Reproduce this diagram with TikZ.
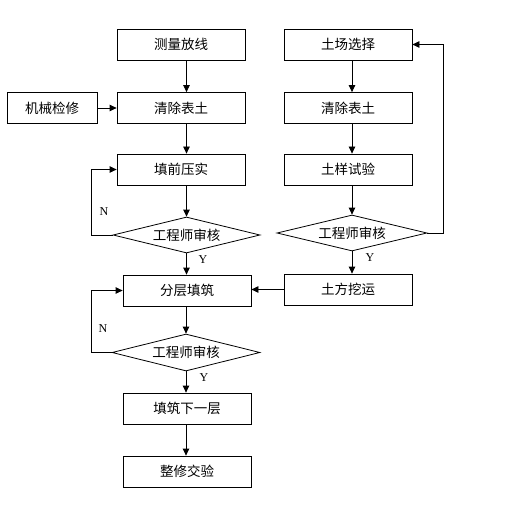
\documentclass[tikz,border=0pt]{standalone}
\usepackage{fontspec}
\newfontfamily\cjk{Noto Sans CJK SC}
\newfontfamily\lat{Liberation Serif}
\usetikzlibrary{shapes.geometric,arrows.meta}
\begin{document}
\begin{tikzpicture}[x=1pt,y=-1pt,
  box/.style={draw,line width=0.8pt,minimum width=128pt,minimum height=31pt,inner sep=0pt,font=\cjk\fontsize{13.5}{15}\selectfont},
  dia/.style={draw,line width=0.8pt,shape=diamond,inner sep=0pt},
  dtext/.style={font=\cjk\fontsize{13.5}{15}\selectfont,inner sep=0pt},
  yn/.style={font=\lat\fontsize{12}{14}\selectfont,inner sep=0pt},
  arr/.style={line width=0.8pt,-{Triangle[length=7pt,width=6.5pt]}},
  ln/.style={line width=0.8pt}]
\useasboundingbox[fill=white] (0,0) rectangle (519,521);
% left column
\node[box] (m1) at (181,44.5) {测量放线};
\node[box] (m2) at (181,108) {清除表土};
\node[box,minimum width=90pt] (jx) at (52,108) {机械检修};
\node[box] (m3) at (181,169.5) {填前压实};
\node[dia,minimum width=147pt,minimum height=36pt] (d1) at (186.5,235) {};
\node[dtext] (d1t) at (d1) {工程师审核};
\node[box] (m4) at (187,290.5) {分层填筑};
\node[dia,minimum width=148pt,minimum height=37pt] (d2) at (186,352.5) {};
\node[dtext] (d2t) at (d2) {工程师审核};
\node[box] (m5) at (187,408.5) {填筑下一层};
\node[box] (m6) at (187,471.5) {整修交验};
% right column
\node[box] (r1) at (348,44.5) {土场选择};
\node[box] (r2) at (348,108) {清除表土};
\node[box] (r3) at (348,169.5) {土样试验};
\node[dia,minimum width=150pt,minimum height=36pt] (d3) at (352,233) {};
\node[dtext] (d3t) at (d3) {工程师审核};
\node[box] (r4) at (348,289.5) {土方挖运};
% labels
\node[yn] (n1) at (104,212) {N};
\node[yn] (y1) at (203,260) {Y};
\node[yn] (n2) at (103,329) {N};
\node[yn] (y2) at (204,378) {Y};
\node[yn] (y3) at (370,258) {Y};
% coordinates for loops
\coordinate (c1) at (91,235);
\coordinate (c2) at (91,352.5);
\coordinate (c3) at (443,233);
% connectors left
\draw[arr] (m1.south -| d1.north) -- (m2.north -| d1.north);
\draw[arr] (jx) -- (m2);
\draw[arr] (m2.south -| d1.north) -- (m3.north -| d1.north);
\draw[arr] (m3.south -| d1.north) -- (d1.north);
\draw[arr] (d1.west) -- (c1) -- (c1 |- m3.west) -- (m3.west);
\draw[arr] (d1.south) -- (d1.south |- m4.north);
\draw[arr] (m4.south -| d2.north) -- (d2.north);
\draw[arr] (d2.west) -- (c2) -- (c2 |- m4.west) -- (m4.west);
\draw[arr] (d2.south) -- (d2.south |- m5.north);
\draw[arr] (m5.south -| d2.south) -- (m6.north -| d2.south);
% connectors right
\draw[arr] (r1.south -| d3.north) -- (r2.north -| d3.north);
\draw[arr] (r2.south -| d3.north) -- (r3.north -| d3.north);
\draw[arr] (r3.south -| d3.north) -- (d3.north);
\draw[arr] (d3.east) -- (c3) -- (c3 |- r1.east) -- (r1.east);
\draw[arr] (d3.south) -- (d3.south |- r4.north);
\draw[arr] (r4.west) -- (r4.west -| m4.east);
\end{tikzpicture}
\end{document}
